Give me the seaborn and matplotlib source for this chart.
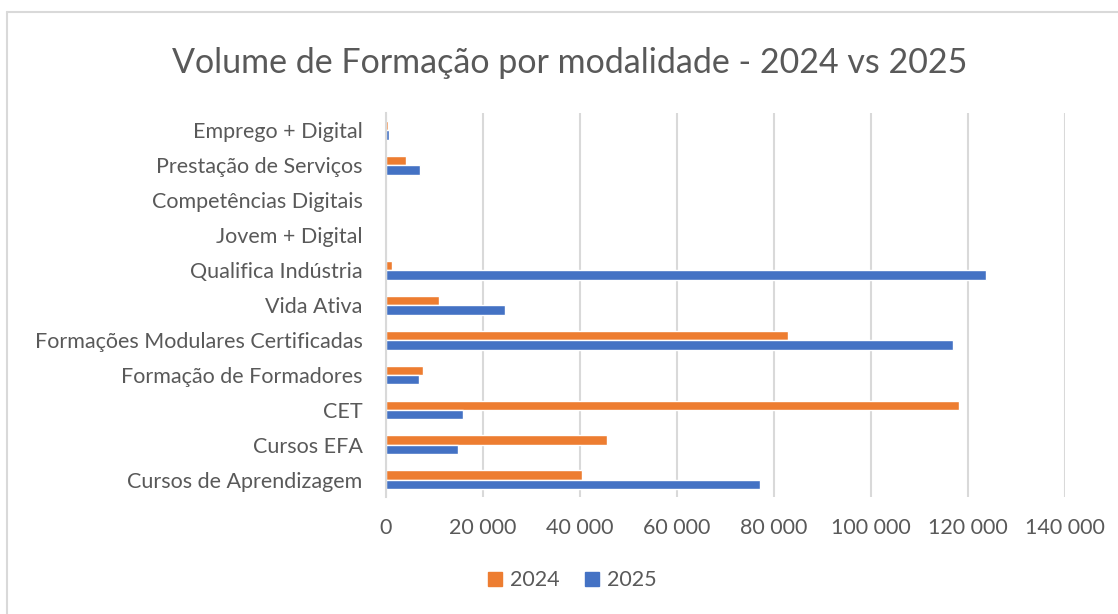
import matplotlib
matplotlib.use("Agg")
import matplotlib.pyplot as plt
import matplotlib.ticker as mticker
from matplotlib.lines import Line2D
import seaborn as sns
import pandas as pd

categories = [
    "Emprego + Digital",
    "Prestação de Serviços",
    "Competências Digitais",
    "Jovem + Digital",
    "Qualifica Indústria",
    "Vida Ativa",
    "Formações Modulares Certificadas",
    "Formação de Formadores",
    "CET",
    "Cursos EFA",
    "Cursos de Aprendizagem",
]
values_2024 = [300, 4200, 0, 0, 1300, 10900, 82800, 7600, 118100, 45600, 40400]
values_2025 = [600, 7100, 0, 0, 123800, 24500, 117000, 6700, 15800, 14900, 77200]
years = ["2024", "2025"]
colors = {"2024": "#ED7D31", "2025": "#4472C4"}
xticks = [0, 20000, 40000, 60000, 80000, 100000, 120000, 140000]

df = pd.DataFrame({
    "modalidade": categories * 2,
    "ano": [years[0]] * len(categories) + [years[1]] * len(categories),
    "volume": values_2024 + values_2025,
})

sns.set_style("white")
plt.rcParams["font.family"] = ["Lato", "DejaVu Sans"]
text_col = "#595959"

fig = plt.figure(figsize=(11.18, 6.14), dpi=100)
ax = fig.add_axes([0.3453, 0.19, 0.6073, 0.626])

sns.barplot(data=df, y="modalidade", x="volume", hue="ano", order=categories,
            hue_order=years, palette=colors, width=0.54, gap=0,
            orient="h", ax=ax, legend=False, saturation=1)

ax.set_xlim(0, 140000)
ax.set_ylim(len(categories) - 0.5, -0.5)
ax.set_xticks(xticks)
ax.xaxis.set_major_formatter(mticker.FuncFormatter(lambda v, p: f"{int(v):,}".replace(",", " ")))
ax.grid(axis="x", color="#D9D9D9", linewidth=1.5)
ax.set_axisbelow(True)
for s in ["top", "right", "bottom"]:
    ax.spines[s].set_visible(False)
ax.spines["left"].set_color("#D9D9D9")
ax.spines["left"].set_linewidth(1.5)
ax.tick_params(axis="both", length=0, labelsize=15.5, colors=text_col)
ax.tick_params(axis="x", pad=15)
ax.tick_params(axis="y", pad=17)
ax.set_xlabel("")
ax.set_ylabel("")

fig.text(0.51, 0.898, "Volume de Formação por modalidade - 2024 vs 2025",
         ha="center", va="center", fontsize=24.5, color=text_col)

handles = [Line2D([], [], marker="s", linestyle="", markersize=10,
                  color=colors[y]) for y in years]
fig.legend(handles, years, loc="center", bbox_to_anchor=(0.51, 0.055), ncol=2,
           frameon=False, fontsize=15.5, labelcolor=text_col, handletextpad=0.2,
           columnspacing=1.0, handlelength=1.0)

# chart frame (left and top edges visible)
fig.add_artist(Line2D([0.0067, 0.0067], [0, 0.98], transform=fig.transFigure,
                      color="#D9D9D9", linewidth=1.5))
fig.add_artist(Line2D([0.0067, 1.0], [0.98, 0.98], transform=fig.transFigure,
                      color="#D9D9D9", linewidth=1.5))

fig.savefig("out.png", dpi=100)
